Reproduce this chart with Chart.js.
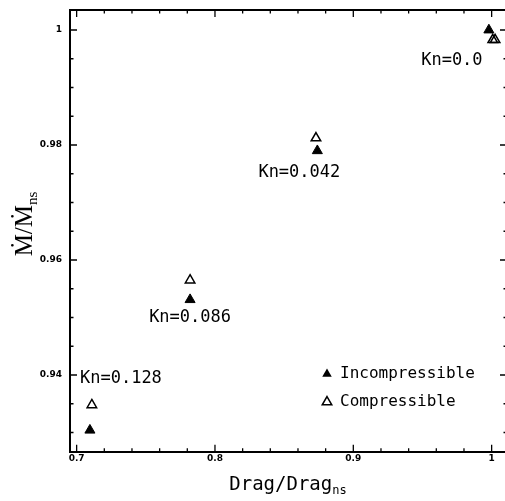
<!DOCTYPE html>
<html>
<head>
<meta charset="utf-8">
<script src="https://cdn.jsdelivr.net/npm/chart.js@4.4.1/dist/chart.umd.min.js"></script>
<style>
html,body{margin:0;padding:0;background:#fff;overflow:hidden;width:505px;height:501px;}
#c{display:block;}
</style>
</head>
<body>
<canvas id="c" width="507" height="501"></canvas>
<script>
// ---- data ----
const knLabels = ["Kn=0.128", "Kn=0.086", "Kn=0.042", "Kn=0.0"];
const dragIncompressible = [0.7096, 0.782, 0.874, 0.998];
const mdotIncompressible = [0.9304, 0.9531, 0.9790, 1.0000];
const dragCompressible = [0.711, 0.782, 0.873, 1.0008, 1.0025];
const mdotCompressible = [0.9348, 0.9565, 0.9812, 0.9983, 0.9983];

const xTickValues = [0.70,0.72,0.74,0.76,0.78,0.80,0.82,0.84,0.86,0.88,0.90,0.92,0.94,0.96,0.98,1.00];
const xTickLabels = {"0.7":"0.7","0.8":"0.8","0.9":"0.9","1":"1"};
const yTickValues = [0.930,0.935,0.940,0.945,0.950,0.955,0.960,0.965,0.970,0.975,0.980,0.985,0.990,0.995,1.000];
const yTickLabels = {"0.94":"0.94","0.96":"0.96","0.98":"0.98","1":"1"};

const seriesNames = ["Incompressible", "Compressible"];

// ---- layout / style constants ----
const X_MIN = 0.6952, X_MAX = 1.0111;
const Y_MIN = 0.92666, Y_MAX = 1.00348;
// pixel offsets of the Kn labels relative to the incompressible point
const knLabelOffsets = [[31, -52], [0, 18], [-18, 22], [-37, 31]];

function keyOf(v){ return String(Math.round(v*1000)/1000); }
function tri(ctx, x, y, r, filled){
  ctx.beginPath();
  ctx.moveTo(x, y - r);
  ctx.lineTo(x + r*Math.sin(Math.PI*2/3), y - r*Math.cos(Math.PI*2/3));
  ctx.lineTo(x + r*Math.sin(Math.PI*4/3), y - r*Math.cos(Math.PI*4/3));
  ctx.closePath();
  if (filled){ ctx.fillStyle='#000'; ctx.fill(); }
  else { ctx.fillStyle='#fff'; ctx.fill(); ctx.lineWidth=1.5; ctx.strokeStyle='#000'; ctx.stroke(); }
}

const framePlugin = {
  id: 'frame',
  afterDraw(chart){
    const ctx = chart.ctx, a = chart.chartArea;
    const xs = chart.scales.x, ys = chart.scales.y;
    ctx.save();
    ctx.strokeStyle = '#000';
    // top and right frame
    ctx.lineWidth = 2;
    ctx.beginPath();
    ctx.moveTo(a.left, a.top); ctx.lineTo(a.right, a.top);
    ctx.moveTo(a.right, a.top); ctx.lineTo(a.right, a.bottom);
    ctx.stroke();
    // inward ticks
    ctx.lineWidth = 1.3;
    ctx.beginPath();
    xs.ticks.forEach(t => {
      const px = xs.getPixelForValue(t.value);
      const len = xTickLabels[keyOf(t.value)] ? 7 : 3.5;
      ctx.moveTo(px, a.bottom); ctx.lineTo(px, a.bottom - len);
      ctx.moveTo(px, a.top); ctx.lineTo(px, a.top + len);
    });
    ys.ticks.forEach(t => {
      const py = ys.getPixelForValue(t.value);
      const len = yTickLabels[keyOf(t.value)] ? 7 : 3.5;
      ctx.moveTo(a.left, py); ctx.lineTo(a.left + len, py);
      ctx.moveTo(a.right, py); ctx.lineTo(a.right - len, py);
    });
    ctx.stroke();

    // x axis title with subscript
    ctx.fillStyle = '#000';
    ctx.textBaseline = 'alphabetic';
    const mainFont = '19px "DejaVu Sans Mono"', subFont = '12px "DejaVu Sans Mono"';
    ctx.font = mainFont;
    const t1 = 'Drag/Drag';
    const w1 = ctx.measureText(t1).width;
    ctx.font = subFont;
    const w2 = ctx.measureText('ns').width;
    const cx = 288, by = 490;
    let sx = cx - (w1 + w2)/2;
    ctx.font = mainFont; ctx.fillText(t1, sx, by);
    ctx.font = subFont; ctx.fillText('ns', sx + w1, by + 4);

    // y axis title rotated
    ctx.save();
    ctx.translate(32, 224);
    ctx.rotate(-Math.PI/2);
    const yMain = '25px "Liberation Serif"', ySub = '15px "Liberation Serif"';
    ctx.font = yMain;
    const m1 = 'Ṁ/Ṁ';
    const mw1 = ctx.measureText(m1).width;
    ctx.font = ySub;
    const mw2 = ctx.measureText('ns').width;
    let mx = -(mw1 + mw2)/2;
    ctx.font = yMain; ctx.fillText(m1, mx, 0);
    ctx.font = ySub; ctx.fillText('ns', mx + mw1, 5);
    ctx.restore();

    // Kn labels anchored to the incompressible points
    ctx.font = '17px "DejaVu Sans Mono"';
    ctx.textAlign = 'center';
    ctx.textBaseline = 'middle';
    knLabels.forEach((lab, i) => {
      const px = xs.getPixelForValue(dragIncompressible[i]);
      const py = ys.getPixelForValue(mdotIncompressible[i]);
      ctx.fillText(lab, px + knLabelOffsets[i][0], py + knLabelOffsets[i][1]);
    });

    // legend
    ctx.textAlign = 'left';
    ctx.font = '16px "DejaVu Sans Mono"';
    tri(ctx, 327, 374, 5.5, true);
    tri(ctx, 327, 402, 5.5, false);
    ctx.fillStyle = '#000';
    ctx.fillText(seriesNames[0], 340, 374);
    ctx.fillText(seriesNames[1], 340, 402);
    ctx.restore();
  }
};

new Chart(document.getElementById('c'), {
  type: 'scatter',
  data: {
    datasets: [
      {
        label: seriesNames[0],
        data: dragIncompressible.map((x, i) => ({x, y: mdotIncompressible[i]})),
        pointStyle: 'triangle',
        pointRadius: 5.8,
        backgroundColor: '#000',
        borderColor: '#000',
        borderWidth: 1
      },
      {
        label: seriesNames[1],
        data: dragCompressible.map((x, i) => ({x, y: mdotCompressible[i]})),
        pointStyle: 'triangle',
        pointRadius: 5.5,
        backgroundColor: 'rgba(255,255,255,0)',
        borderColor: '#000',
        borderWidth: 1.5
      }
    ]
  },
  options: {
    responsive: false,
    animation: false,
    layout: { autoPadding: false, padding: { top: 10, right: 0, left: 0, bottom: 0 } },
    plugins: { legend: { display: false }, tooltip: { enabled: false } },
    scales: {
      x: {
        type: 'linear', min: X_MIN, max: X_MAX,
        afterBuildTicks(s){ s.ticks = xTickValues.map(v => ({value: v})); },
        afterFit(s){ s.height = 49.3; s.paddingLeft = 0; s.paddingRight = 0; },
        grid: { display: true, drawOnChartArea: false, drawTicks: false },
        border: { display: true, color: '#000', width: 2 },
        ticks: {
          autoSkip: false, maxRotation: 0, padding: 2, color: '#000',
          font: { family: '"DejaVu Sans"', size: 9, weight: 'bold' },
          callback: (v) => xTickLabels[keyOf(v)] || ''
        }
      },
      y: {
        type: 'linear', min: Y_MIN, max: Y_MAX,
        afterBuildTicks(s){ s.ticks = yTickValues.map(v => ({value: v})); },
        afterFit(s){ s.width = 70; s.paddingTop = 0; s.paddingBottom = 0; },
        grid: { display: true, drawOnChartArea: false, drawTicks: false },
        border: { display: true, color: '#000', width: 2 },
        ticks: {
          autoSkip: false, padding: 8, color: '#000',
          font: { family: '"DejaVu Sans"', size: 9, weight: 'bold' },
          callback: (v) => yTickLabels[keyOf(v)] || ''
        }
      }
    }
  },
  plugins: [framePlugin]
});
</script>
</body>
</html>
